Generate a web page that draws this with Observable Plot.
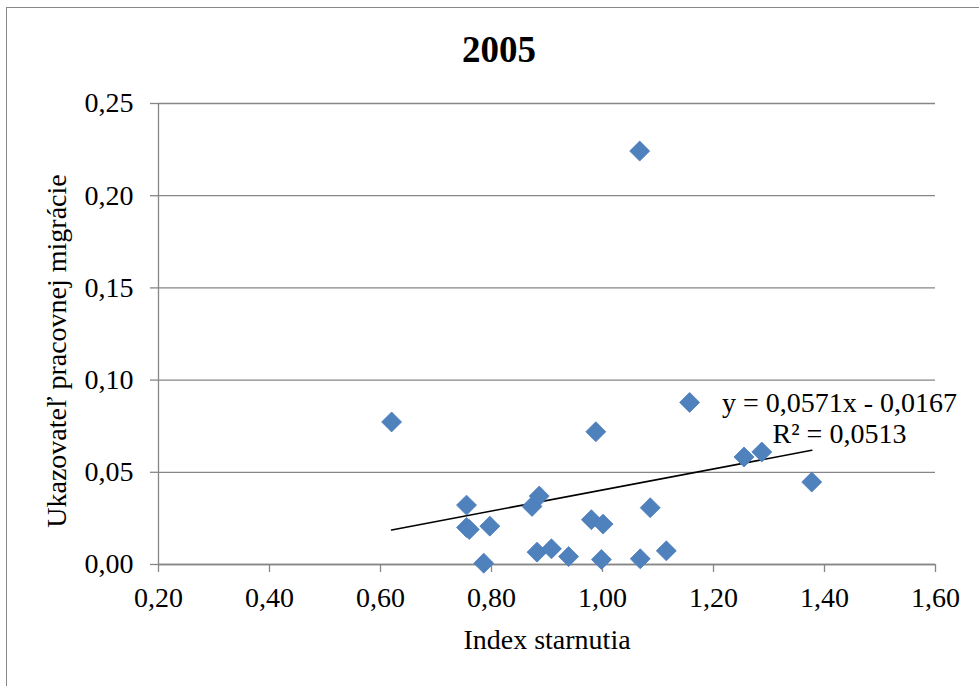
<!DOCTYPE html>
<html>
<head>
<meta charset="utf-8">
<script src="https://cdn.jsdelivr.net/npm/d3@7"></script>
<script src="https://cdn.jsdelivr.net/npm/@observablehq/plot@0.6"></script>
<style>
  body { margin: 0; background: white; }
  #wrap { position: relative; width: 979px; height: 686px; overflow: hidden; font-family: "Liberation Serif", "Times New Roman", serif; }
  #chart { position: absolute; left: 0; top: 0; }
  #frame { position: absolute; left: 6px; top: 7px; width: 1000px; height: 720px; border: 1.5px solid #888; pointer-events: none; }
  #title { position: absolute; left: 0; top: 28px; width: 998px; height: 44px; line-height: 44px; text-align: center; font-weight: bold; font-size: 37px; color: #000; }
</style>
</head>
<body>
<div id="wrap">
  <div id="chart"></div>
  <div id="frame"></div>
  <div id="title">2005</div>
</div>
<script>
// Data
const indexStarnutia = [0.620, 0.755, 0.755, 0.760, 0.797, 0.786, 0.873, 0.886, 0.882, 0.908, 0.939, 0.980, 1.001, 0.988, 0.998, 1.067, 1.068, 1.086, 1.115, 1.157, 1.255, 1.287, 1.377];
const migracia      = [0.0773, 0.0322, 0.0201, 0.0190, 0.0208, 0.0007, 0.0315, 0.0371, 0.0067, 0.0085, 0.0043, 0.0243, 0.0219, 0.0720, 0.0027, 0.2242, 0.0031, 0.0308, 0.0074, 0.0879, 0.0583, 0.0610, 0.0447];
const xTicks = [0.2, 0.4, 0.6, 0.8, 1.0, 1.2, 1.4, 1.6];
const yTicks = [0, 0.05, 0.10, 0.15, 0.20, 0.25];
const trendSlope = 0.0571;
const trendIntercept = -0.0167;
const equationLines = ["y = 0,0571x - 0,0167", "R² = 0,0513"];
const equationAnchor = [{x: 1.427, y: 0.0796}];
const xLabel = "Index starnutia";
const yLabel = "Ukazovateľ pracovnej migrácie";

const points = indexStarnutia.map((x, i) => ({x, y: migracia[i]}));
const xExt = d3.extent(indexStarnutia);
const trend = xExt.map(x => ({x, y: trendSlope * x + trendIntercept}));
const fmt = d => d.toFixed(2).replace(".", ",");

const chart = Plot.plot({
  width: 979,
  height: 686,
  marginLeft: 158,
  marginRight: 44,
  marginTop: 103,
  marginBottom: 122,
  style: {background: "transparent", color: "black", fontFamily: "'Liberation Serif', 'Times New Roman', serif", fontSize: "28px"},
  x: {domain: [0.2, 1.6]},
  y: {domain: [0, 0.25]},
  marks: [
    Plot.gridY(yTicks, {stroke: "#868686", strokeOpacity: 1, strokeWidth: 1.3}),
    Plot.ruleX([0.2], {stroke: "#868686", strokeWidth: 1.3}),
    Plot.ruleY([0], {stroke: "#868686", strokeWidth: 1.3}),
    Plot.axisY(yTicks, {tickFormat: fmt, tickSize: 8, tickPadding: 17, stroke: "#868686", strokeWidth: 1.3, fill: "black", label: null, fontSize: 28}),
    Plot.axisX(xTicks, {tickFormat: fmt, tickSize: 8, tickPadding: 15, stroke: "#868686", strokeWidth: 1.3, fill: "black", label: null, fontSize: 28}),
    Plot.line(trend, {x: "x", y: "y", stroke: "black", strokeWidth: 1.6}),
    Plot.dot(points, {x: "x", y: "y", symbol: "diamond2", r: 9, fill: "#4F81BD", stroke: "#4A7EBB", strokeWidth: 0.8}),
    Plot.text(equationAnchor, {x: "x", y: "y", text: () => equationLines.join("\n"), textAnchor: "middle", lineAnchor: "middle", lineHeight: 1.1, fontSize: 28, fill: "black"}),
    Plot.text([xLabel], {frameAnchor: "bottom", dy: 76, textAnchor: "middle", lineAnchor: "middle", fontSize: 28, fill: "black"}),
    Plot.text([yLabel], {frameAnchor: "left", rotate: -90, dx: -101, dy: 17, textAnchor: "middle", lineAnchor: "middle", fontSize: 28, fill: "black"})
  ]
});
document.getElementById("chart").appendChild(chart);
</script>
</body>
</html>
